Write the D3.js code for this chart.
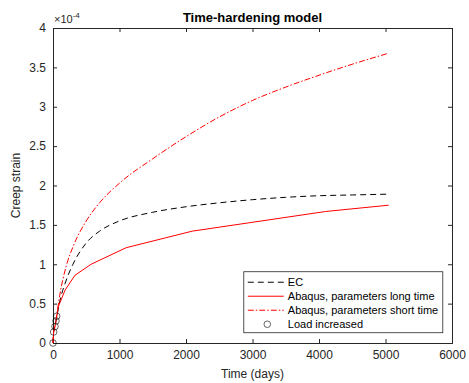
<!DOCTYPE html>
<html>
<head>
<meta charset="utf-8">
<script src="https://cdn.jsdelivr.net/npm/d3@7"></script>
<style>
  body { margin: 0; background: #fff; }
  text { font-family: "Liberation Sans", Arial, sans-serif; }
</style>
</head>
<body>
<div id="visualization"></div>
<script>
// values in units of 1e-4
const ecTime = [0, 10, 30, 50, 100, 200, 300, 500, 700, 1000, 1500, 2000, 2500, 3000, 3500, 4000, 4500, 5048];
const ecStrain = [0, 0.14, 0.22, 0.3, 0.52, 0.8, 1.0, 1.27, 1.42, 1.55, 1.66, 1.73, 1.78, 1.82, 1.85, 1.87, 1.88, 1.89];

const longTime = [0, 10, 30, 50, 80, 180, 330, 573, 1100, 2092, 4100, 5048];
const longStrain = [0, 0.14, 0.21, 0.3, 0.46, 0.67, 0.86, 1.0, 1.21, 1.42, 1.67, 1.75];

const shortTime = [0, 10, 30, 50, 100, 200, 300, 500, 700, 1000, 1500, 2000, 2500, 3000, 3500, 4000, 4500, 5048];
const shortStrain = [0, 0.14, 0.22, 0.32, 0.6, 0.98, 1.22, 1.55, 1.78, 2.03, 2.34, 2.62, 2.87, 3.08, 3.25, 3.4, 3.54, 3.68];

const loadTime = [0, 10, 30, 45, 55];
const loadStrain = [0, 0.14, 0.21, 0.28, 0.34];

const xTicks = [0, 1000, 2000, 3000, 4000, 5000, 6000];
const yTicks = [0, 0.5, 1, 1.5, 2, 2.5, 3, 3.5, 4];

const legendLabels = ["EC", "Abaqus, parameters long time", "Abaqus, parameters short time", "Load increased"];

const margin = {top: 28, right: 17, bottom: 40, left: 53};
const width = 469 - margin.left - margin.right;
const height = 383 - margin.top - margin.bottom;
const axisColor = "#262626";

const svgRoot = d3.select("#visualization")
    .append("svg")
    .attr("width", 469)
    .attr("height", 383);

const svg = svgRoot.append("g")
    .attr("transform", "translate(" + margin.left + "," + margin.top + ")");

const x = d3.scaleLinear().domain([0, 6000]).range([0, width]);
const y = d3.scaleLinear().domain([0, 4]).range([height, 0]);

const fmt = (d) => String(d);

// axes with inward ticks on all four sides
svg.append("g")
    .attr("transform", `translate(0, ${height})`)
    .call(d3.axisBottom(x).tickValues(xTicks).tickSize(-4).tickPadding(7).tickFormat(fmt));
svg.append("g")
    .call(d3.axisTop(x).tickValues(xTicks).tickSize(-4).tickFormat(""));
svg.append("g")
    .call(d3.axisLeft(y).tickValues(yTicks).tickSize(-4).tickPadding(7).tickFormat(fmt));
svg.append("g")
    .attr("transform", `translate(${width}, 0)`)
    .call(d3.axisRight(y).tickValues(yTicks).tickSize(-4).tickFormat(""));

svg.selectAll(".domain").attr("stroke", axisColor).attr("stroke-width", 1);
svg.selectAll(".tick line").attr("stroke", axisColor);
svg.selectAll(".tick text").attr("fill", axisColor).style("font-size", "12px");

const line = d3.line()
    .x((d) => x(d[0]))
    .y((d) => y(d[1]));

const smooth = d3.line()
    .curve(d3.curveMonotoneX)
    .x((d) => x(d[0]))
    .y((d) => y(d[1]));

const zip = (a, b) => a.map((t, i) => [t, b[i]]);

svg.append("path")
    .datum(zip(ecTime, ecStrain))
    .attr("d", smooth)
    .attr("fill", "none")
    .attr("stroke", "#000")
    .attr("stroke-width", 1)
    .attr("stroke-dasharray", "6,4");

svg.append("path")
    .datum(zip(longTime, longStrain))
    .attr("d", line)
    .attr("fill", "none")
    .attr("stroke", "#ff0000")
    .attr("stroke-width", 1);

svg.append("path")
    .datum(zip(shortTime, shortStrain))
    .attr("d", smooth)
    .attr("fill", "none")
    .attr("stroke", "#ff0000")
    .attr("stroke-width", 1)
    .attr("stroke-dasharray", "6,2,1.5,2");

svg.selectAll(".load")
    .data(zip(loadTime, loadStrain))
    .enter().append("circle")
    .attr("class", "load")
    .attr("cx", (d) => x(d[0]))
    .attr("cy", (d) => y(d[1]))
    .attr("r", 3.3)
    .attr("fill", "none")
    .attr("stroke", "#000")
    .attr("stroke-width", 0.6);

// title, labels, exponent
svg.append("text")
    .attr("x", width / 2)
    .attr("y", -6)
    .attr("text-anchor", "middle")
    .style("font-size", "13px")
    .style("font-weight", "bold")
    .attr("fill", "#000")
    .text("Time-hardening model");

svg.append("text")
    .attr("x", width / 2)
    .attr("y", height + 35)
    .attr("text-anchor", "middle")
    .style("font-size", "12px")
    .attr("fill", axisColor)
    .text("Time (days)");

svg.append("text")
    .attr("transform", `translate(-33, ${height / 2}) rotate(-90)`)
    .attr("text-anchor", "middle")
    .style("font-size", "12px")
    .attr("fill", axisColor)
    .text("Creep strain");

const expo = svg.append("text")
    .attr("x", 1)
    .attr("y", -5)
    .style("font-size", "11px")
    .attr("fill", axisColor);
expo.append("tspan").text("\u00d710");
expo.append("tspan").attr("dy", -5).style("font-size", "8px").text("-4");

// legend
const lg = svg.append("g").attr("transform", `translate(${x(2869)}, ${y(0.905)})`);
lg.append("rect")
    .attr("width", 199)
    .attr("height", 61)
    .attr("fill", "#fff")
    .attr("stroke", axisColor)
    .attr("stroke-width", 0.8);

const legendStyles = [
    {stroke: "#000", dash: "6,4", marker: false},
    {stroke: "#ff0000", dash: null, marker: false},
    {stroke: "#ff0000", dash: "6,2,1.5,2", marker: false},
    {stroke: "#000", dash: null, marker: true}
];

legendLabels.forEach((label, i) => {
    const yy = 10.5 + i * 14;
    const s = legendStyles[i];
    if (s.marker) {
        lg.append("circle")
            .attr("cx", 23.5).attr("cy", yy).attr("r", 3.3)
            .attr("fill", "none").attr("stroke", "#000").attr("stroke-width", 0.6);
    } else {
        lg.append("line")
            .attr("x1", 4).attr("x2", 40).attr("y1", yy).attr("y2", yy)
            .attr("stroke", s.stroke).attr("stroke-width", 1)
            .attr("stroke-dasharray", s.dash);
    }
    lg.append("text")
        .attr("x", 44)
        .attr("y", yy + 4)
        .style("font-size", "11px")
        .attr("fill", "#000")
        .text(label);
});
</script>
</body>
</html>
